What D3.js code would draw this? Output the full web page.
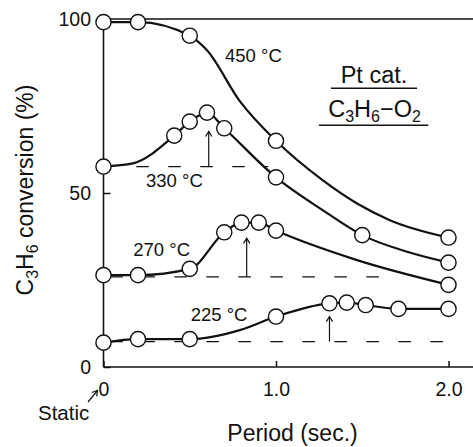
<!DOCTYPE html>
<html>
<head>
<meta charset="utf-8">
<script src="https://cdn.jsdelivr.net/npm/d3@7"></script>
<style>
  body { margin: 0; background: #fff; }
  svg { display: block; font-family: "Liberation Sans", Arial, sans-serif; }
</style>
</head>
<body>
<div id="chart"></div>
<script>
// measured points, [period (sec.), C3H6 conversion (%)]
var marks450 = [[0, 99.1], [0.2, 99.1], [0.5, 95.2], [1.0, 65.0], [2.0, 37.2]];
var marks330 = [[0, 57.6], [0.41, 66.5], [0.5, 70.5], [0.6, 73.1], [0.7, 68.6], [1.0, 54.5], [1.5, 37.9], [2.0, 30.0]];
var marks270 = [[0, 26.4], [0.2, 26.4], [0.5, 28.2], [0.7, 38.7], [0.8, 41.5], [0.9, 41.5], [1.0, 39.2], [2.0, 23.6]];
var marks225 = [[0, 7.0], [0.2, 8.0], [0.5, 8.0], [1.0, 14.5], [1.31, 18.3], [1.41, 18.5], [1.52, 17.8], [1.71, 16.7], [2.0, 16.7]];

// extra points (no marker there)
var trace450 = [[0.6, 91.0], [0.79, 76.4], [1.27, 53.7], [1.47, 47.0], [1.66, 42.2]];
var trace330 = [[0.17, 58.5], [1.27, 45.1], [1.76, 33.1]];
var trace270 = [[1.47, 30.7]];
var trace225 = [[0.79, 10.6]];

// static conversion (dashed) : [level, from, to]
var static330 = [57.6, 0.19, 0.955];
var static270 = [25.9, 0.04, 1.62];
var static225 = [7.3, 0.04, 1.99];

// arrows : [period, from, to]
var arrow330 = [0.61, 57.6, 67.7];
var arrow270 = [0.83, 25.9, 37.0];
var arrow225 = [1.31, 7.3, 14.5];

var yTicks = [0, 50, 100];
var xTicks = [0, 1, 2];
var xTickLabels = ["0", "1.0", "2.0"];

var width = 473, height = 447;

var svg = d3.select("#chart").append("svg")
  .attr("width", width)
  .attr("height", height);

var x = d3.scaleLinear().domain([0, 2]).range([103.5, 448.5]);
var y = d3.scaleLinear().domain([0, 100]).range([367, 19]);

//axes
var yAxis = svg.append("g")
  .attr("transform", "translate(" + x(0) + ",0)")
  .call(d3.axisLeft(y).tickValues(yTicks).tickSize(-7).tickPadding(12.5));
var xAxis = svg.append("g")
  .attr("transform", "translate(0," + y(0) + ")")
  .call(d3.axisBottom(x).tickValues(xTicks).tickSize(-6).tickPadding(15.5)
    .tickFormat(function(d, i){ return xTickLabels[i]; }));

[yAxis, xAxis].forEach(function(g){
  g.select(".domain").remove();
  g.selectAll("line").attr("stroke", "#111").attr("stroke-width", 1.5);
  g.selectAll("text")
    .attr("fill", "#111")
    .style("font-size", "19.5px")
    .style("font-family", "'Liberation Sans', Arial, sans-serif");
});

svg.append("line")
  .attr("x1", x(0)).attr("x2", width)
  .attr("y1", y(0)).attr("y2", y(0))
  .attr("stroke", "#111").attr("stroke-width", 1.6);
svg.append("line")
  .attr("x1", x(0)).attr("x2", x(0))
  .attr("y1", y(0)).attr("y2", y(100))
  .attr("stroke", "#111").attr("stroke-width", 1.6);
svg.append("line")
  .attr("x1", x(0)).attr("x2", width)
  .attr("y1", y(100)).attr("y2", y(100))
  .attr("stroke", "#111").attr("stroke-width", 1.6);

//dashed static levels
[static330, static270, static225].forEach(function(s){
  svg.append("line")
    .attr("x1", x(s[1])).attr("x2", x(s[2]))
    .attr("y1", y(s[0])).attr("y2", y(s[0]))
    .attr("stroke", "#111")
    .attr("stroke-width", 1.2)
    .attr("stroke-dasharray", "12.5,19.5");
});

//arrows
function arrow(x1, y1, x2, y2){
  var ang = Math.atan2(y2 - y1, x2 - x1);
  var len = 6, spread = 0.55;
  svg.append("line")
    .attr("x1", x1).attr("y1", y1).attr("x2", x2).attr("y2", y2)
    .attr("stroke", "#111").attr("stroke-width", 1.2);
  svg.append("path")
    .attr("d", "M" + (x2 - len * Math.cos(ang - spread)) + "," + (y2 - len * Math.sin(ang - spread)) +
      "L" + x2 + "," + y2 +
      "L" + (x2 - len * Math.cos(ang + spread)) + "," + (y2 - len * Math.sin(ang + spread)))
    .attr("fill", "none").attr("stroke", "#111").attr("stroke-width", 1.2);
}
[arrow330, arrow270, arrow225].forEach(function(a){
  arrow(x(a[0]), y(a[1]), x(a[0]), y(a[2]));
});

//curves
var line = d3.line()
  .x(function(d){ return x(d[0]); })
  .y(function(d){ return y(d[1]); })
  .curve(d3.curveMonotoneX);

var series = [
  [marks450, trace450],
  [marks330, trace330],
  [marks270, trace270],
  [marks225, trace225]
];

series.forEach(function(s){
  var pts = s[0].concat(s[1]).sort(function(a, b){ return a[0] - b[0]; });
  svg.append("path")
    .attr("d", line(pts))
    .attr("fill", "none")
    .attr("stroke", "#111")
    .attr("stroke-width", 2.2);
});

series.forEach(function(s){
  svg.selectAll(null)
    .data(s[0])
    .enter().append("circle")
      .attr("cx", function(d){ return x(d[0]); })
      .attr("cy", function(d){ return y(d[1]); })
      .attr("r", 7.6)
      .attr("fill", "#fff")
      .attr("stroke", "#111")
      .attr("stroke-width", 1.4);
});

//temperature labels
var tempLabels = [
  ["450 °C", 225, 61.7],
  ["330 °C", 146, 186.7],
  ["270 °C", 133.3, 256],
  ["225 °C", 190.7, 320.7]
];
tempLabels.forEach(function(t){
  svg.append("text")
    .attr("x", t[1]).attr("y", t[2])
    .style("font-size", "18.5px")
    .attr("fill", "#111")
    .text(t[0]);
});

//legend
svg.append("text")
  .attr("x", 374).attr("y", 83.3)
  .attr("text-anchor", "middle")
  .style("font-size", "23.5px")
  .attr("fill", "#111")
  .text("Pt cat.");
svg.append("line")
  .attr("x1", 331).attr("x2", 417).attr("y1", 88.3).attr("y2", 88.3)
  .attr("stroke", "#111").attr("stroke-width", 1.4);

function chem(g, parts, big, small, shift){
  parts.forEach(function(p, i){
    var prev = i > 0 ? parts[i - 1][1] : false;
    var dy = 0;
    if (p[1] && !prev) dy = shift;
    if (!p[1] && prev) dy = -shift;
    g.append("tspan")
      .attr("dy", dy)
      .style("font-size", (p[1] ? small : big) + "px")
      .text(p[0]);
  });
}

var formula = svg.append("text")
  .attr("x", 374.5).attr("y", 117.3)
  .attr("text-anchor", "middle")
  .attr("fill", "#111");
chem(formula, [["C", false], ["3", true], ["H", false], ["6", true], ["\u2212O", false], ["2", true]], 23.5, 16, 5);
svg.append("line")
  .attr("x1", 319).attr("x2", 428.3).attr("y1", 125.3).attr("y2", 125.3)
  .attr("stroke", "#111").attr("stroke-width", 1.4);

//axis titles
svg.append("text")
  .attr("x", 292.5).attr("y", 441)
  .attr("text-anchor", "middle")
  .style("font-size", "23px")
  .attr("fill", "#111")
  .text("Period (sec.)");

var ylab = svg.append("text")
  .attr("transform", "translate(33,190) rotate(-90)")
  .attr("text-anchor", "middle")
  .attr("fill", "#111");
chem(ylab, [["C", false], ["3", true], ["H", false], ["6", true], [" conversion (%)", false]], 23, 16, 5);

//static
svg.append("text")
  .attr("x", 38).attr("y", 420)
  .style("font-size", "20.5px")
  .attr("fill", "#111")
  .text("Static");
arrow(88, 402, 97.5, 390.5);
</script>
</body>
</html>
